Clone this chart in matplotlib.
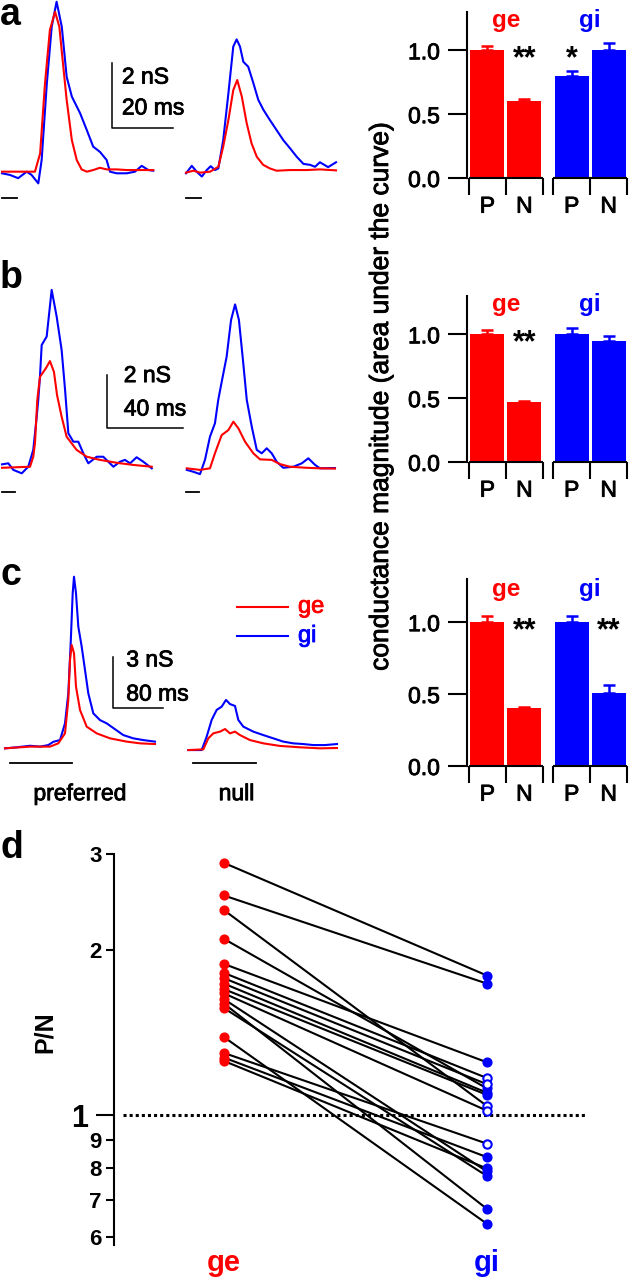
import numpy as np
import matplotlib.pyplot as plt
import matplotlib.patheffects as pe
from matplotlib.ticker import FixedLocator, FixedFormatter
from matplotlib.transforms import blended_transform_factory

plt.rcParams['font.family'] = ['Liberation Sans', 'DejaVu Sans']

RED = '#ff0000'
BLUE = '#0000ff'
# slightly heavier strokes for the regular text, as in the scanned figure
MEDIUM = [pe.withStroke(linewidth=0.6, foreground='k')]

# ---------------- traces (time in ms, conductance in nS) ----------------
# panel a, preferred
a_pref_ge_t = [0, 10.8, 12.5, 14.1, 15.7, 17.4, 18.8, 20.1, 21.2, 22.9, 24.5, 26.1, 27.8, 29.9, 32.1, 34.3, 37.6, 40.9, 45.2, 49.6]
a_pref_ge = [0.01, 0.01, 0.57, 2.73, 4.37, 4.93, 4.47, 3.24, 2.22, 0.98, 0.37, 0.08, 0.01, 0.06, 0.13, 0.08, 0.08, 0.06, 0.06, 0.06]
a_pref_gi_t = [0, 2.6, 5.3, 8.1, 9.7, 11.9, 13.0, 14.7, 16.3, 17.9, 19.6, 21.2, 22.9, 25.6, 27.8, 29.9, 32.1, 34.3, 35.4, 37.6, 40.9, 43.6, 45.8, 48.0, 49.6]
a_pref_gi = [-0.04, -0.09, -0.19, 0.01, -0.09, -0.35, 0.37, 2.73, 4.47, 5.24, 4.47, 2.93, 2.32, 1.81, 1.29, 0.78, 0.62, 0.37, 0.01, -0.04, -0.04, 0.01, 0.19, 0.06, 0.04]
# panel a, null
a_null_ge_t = [0, 2.4, 4.6, 7.9, 10.6, 12.2, 13.9, 15.5, 16.8, 18.3, 19.9, 21.5, 23.2, 25.3, 27.5, 29.7, 34.1, 39.6, 43.9, 49.2]
a_null_ge = [-0.02, 0.04, -0.02, 0.01, 0.16, 0.78, 1.60, 2.52, 2.83, 2.32, 1.50, 0.88, 0.47, 0.22, 0.11, 0.04, 0.06, 0.06, 0.08, 0.05]
a_null_gi_t = [0, 1.9, 3.5, 5.2, 6.8, 8.1, 9.5, 10.6, 12.2, 13.9, 15.5, 16.6, 17.7, 18.8, 20.4, 22.1, 23.7, 25.4, 27.5, 29.7, 31.9, 34.1, 36.3, 38.5, 40.7, 42.3, 43.9, 46.6, 49.2]
a_null_gi = [-0.04, 0.19, 0.01, -0.14, 0.06, 0.18, 0.06, 0.11, 0.98, 2.42, 3.86, 4.08, 3.86, 3.39, 3.24, 2.73, 2.22, 1.91, 1.60, 1.29, 0.98, 0.73, 0.47, 0.25, 0.22, 0.16, 0.30, 0.15, 0.30]

# panel b, preferred
b_pref_ge_t = [0, 14.6, 16.3, 17.2, 18.4, 19.8, 23.0, 25.0, 27.1, 28.7, 31.1, 33.7, 38.9, 44.2, 51.1, 59.8, 68.3, 78.1]
b_pref_ge = [-0.03, 0.01, 0.39, 0.91, 2.54, 3.42, 3.76, 4.02, 3.61, 2.73, 1.91, 1.15, 0.65, 0.39, 0.27, 0.16, 0.08, 0.01]
b_pref_gi_t = [0, 3.3, 5.9, 10.3, 13.7, 16.3, 18.1, 18.9, 19.8, 20.7, 23.3, 25.9, 28.5, 31.1, 32.9, 34.6, 37.2, 39.8, 42.4, 45.0, 49.4, 52.8, 58.1, 61.5, 64.1, 66.8, 70.2, 73.7, 78.1]
b_pref_gi = [0.10, 0.14, -0.11, -0.24, 0.01, 0.65, 1.91, 2.54, 3.43, 4.63, 4.95, 6.72, 5.71, 4.44, 2.92, 1.28, 0.96, 0.96, 0.52, 0.14, 0.39, 0.39, 0.01, 0.20, 0.27, 0.14, 0.37, 0.20, -0.05]
# panel b, null
b_null_ge_t = [0.4, 7.3, 12.5, 15.1, 18.6, 22.1, 24.7, 27.3, 30.8, 35.1, 38.6, 44.7, 49.0, 54.2, 62.9, 69.9, 77.7]
b_null_ge = [-0.05, -0.11, -0.05, 0.52, 1.21, 1.40, 1.72, 1.47, 0.96, 0.52, 0.29, 0.27, 0.11, 0.01, -0.03, -0.05, -0.06]
b_null_gi_t = [0.4, 3.8, 7.3, 9.9, 12.5, 15.1, 16.8, 18.8, 21.2, 23.5, 25.6, 27.6, 29.7, 31.7, 34.3, 36.9, 39.5, 42.1, 44.7, 47.3, 50.7, 56.0, 60.4, 63.8, 67.3, 69.9, 77.7]
b_null_gi = [-0.11, -0.18, -0.27, 0.27, 1.15, 1.66, 2.54, 3.30, 4.19, 5.58, 6.17, 5.58, 4.06, 2.54, 1.53, 0.65, 0.52, 0.71, 0.52, 0.20, -0.03, 0.01, 0.14, 0.33, 0.08, -0.05, -0.04]

# panel c, preferred
c_pref_ge_t = [0, 40, 72, 85.3, 96, 101.3, 104, 106.7, 110.4, 113.6, 120, 130.7, 146.7, 168, 194.7, 216, 240]
c_pref_ge = [-0.02, 0.08, 0.08, 0.27, 0.85, 2.79, 5.11, 5.98, 5.50, 3.56, 2.21, 1.24, 0.85, 0.56, 0.37, 0.27, 0.23]
c_pref_gi_t = [0, 18.7, 40, 56, 69.3, 77.3, 88, 96, 101.3, 105.1, 108.3, 110.4, 113.6, 117.3, 122.7, 128, 133.3, 141.3, 152, 162.7, 176, 189.3, 205.3, 221.3, 240]
c_pref_gi = [-0.02, 0.04, 0.13, 0.08, 0.17, 0.36, 0.46, 1.43, 3.17, 6.08, 8.98, 9.94, 8.98, 7.04, 5.88, 4.53, 3.17, 2.01, 1.62, 1.43, 1.09, 0.75, 0.56, 0.46, 0.37]
# panel c, null
c_null_ge_t = [0, 24, 32, 40, 50.7, 58.7, 66.7, 74.7, 82.7, 98.7, 120, 146.7, 178.7, 210.7, 237.9]
c_null_ge = [-0.12, -0.08, 0.56, 0.85, 0.95, 1.10, 0.85, 0.95, 0.75, 0.46, 0.27, 0.12, 0.04, -0.02, 0.0]
c_null_gi_t = [0, 21.4, 29.4, 37.4, 45.4, 53.4, 60.3, 66.7, 74.7, 80, 88, 104, 120, 136, 152, 168, 184, 200, 218.7, 237.9]
c_null_gi = [-0.12, -0.12, 0.66, 1.63, 2.21, 2.40, 2.79, 2.55, 2.44, 1.63, 1.24, 0.95, 0.75, 0.56, 0.37, 0.27, 0.23, 0.17, 0.17, 0.23]

# stimulus (start, duration in ms) and scale bars (nS, ms)
a_stim = (0, 5)
b_stim = (0, 7)
c_stim = (8, 100)
a_scale = (2, 20)
b_scale = (2, 40)
c_scale = (3, 80)

# ---------------- bar data (normalised area under the curve) ----------------
conditions = ['P', 'N']
a_ge_mean, a_ge_err = [1.0, 0.60], [0.03, 0.015]
a_gi_mean, a_gi_err = [0.80, 1.0], [0.04, 0.06]
b_ge_mean, b_ge_err = [1.0, 0.47], [0.03, 0.01]
b_gi_mean, b_gi_err = [1.0, 0.95], [0.05, 0.04]
c_ge_mean, c_ge_err = [1.0, 0.40], [0.045, 0.01]
c_gi_mean, c_gi_err = [1.0, 0.51], [0.045, 0.05]
a_ge_stars, a_gi_stars = ['', '**'], ['*', '']
b_ge_stars, b_gi_stars = ['', '**'], ['', '']
c_ge_stars, c_gi_stars = ['', '**'], ['', '**']

# ---------------- panel d: P/N ratio per cell ----------------
d_ge = [2.89, 2.52, 2.37, 2.10, 1.89, 1.82, 1.78, 1.74, 1.70, 1.67, 1.63, 1.60, 1.57, 1.39, 1.30, 1.275, 1.257]
d_gi = [1.80, 1.74, 1.04, 1.12, 1.25, 1.17, 1.14, 1.10, 1.09, 1.02, 0.79, 0.675, 0.775, 0.634, 0.888, 0.839, 0.80]
d_gi_open = [False, False, True, False, False, True, True, False, False, True, False, False, False, False, True, False, False]
d_ticks = [0.6, 0.7, 0.8, 0.9, 2, 3]
d_ticklabels = ['6', '7', '8', '9', '2', '3']

W, H = 629, 1280
fig = plt.figure(figsize=(W / 100, H / 100), dpi=100)


def px_rect(left, top, width, height):
    return [left / W, 1 - (top + height) / H, width / W, height / H]


def trace_axes(left, right, top, bottom, t0, base, ms_px, ns_px):
    ax = fig.add_axes(px_rect(left, top, right - left, bottom - top))
    ax.set_xlim((left - t0) / ms_px, (right - t0) / ms_px)
    ax.set_ylim((base - bottom) / ns_px, (base - top) / ns_px)
    ax.set_axis_off()
    return ax


def draw_traces(ax, ge_t, ge, gi_t, gi, stim, stim_y):
    ax.plot(gi_t, gi, color=BLUE, lw=1.5)
    ax.plot(ge_t, ge, color=RED, lw=1.5)
    ax.plot([stim[0], stim[0] + stim[1]], [stim_y, stim_y], color='k', lw=1.3,
            clip_on=False)


def scale_bar(ax, t, g, scale, txt_t, amp_g, dur_g):
    amp, dur = scale
    ax.plot([t, t, t + dur], [g + amp, g, g], color='k', lw=1.1, clip_on=False)
    ax.text(txt_t, amp_g, f'{amp} nS', ha='left', va='center', fontsize=16.5,
            path_effects=MEDIUM)
    ax.text(txt_t, dur_g, f'{dur} ms', ha='left', va='center', fontsize=16.5,
            path_effects=MEDIUM)


# ---- panel a traces ----
ax = trace_axes(0, 183, 0, 215, 2, 172, 3.05, 32.5)
draw_traces(ax, a_pref_ge_t, a_pref_ge, a_pref_gi_t, a_pref_gi, a_stim, -0.785)
scale_bar(ax, 36.1, 1.35, a_scale, 39.3, 2.92, 1.97)
ax = trace_axes(183, 345, 0, 215, 186, 172, 3.05, 32.5)
draw_traces(ax, a_null_ge_t, a_null_ge, a_null_gi_t, a_null_gi, a_stim, -0.785)

# ---- panel b traces ----
ax = trace_axes(0, 186, 240, 505, 2, 467, 1.9175, 26.35)
draw_traces(ax, b_pref_ge_t, b_pref_ge, b_pref_gi_t, b_pref_gi, b_stim, -0.94)
scale_bar(ax, 54.6, 1.49, b_scale, 63.5, 3.47, 2.20)
ax = trace_axes(183, 345, 240, 505, 186, 467, 1.9175, 26.35)
draw_traces(ax, b_null_ge_t, b_null_ge, b_null_gi_t, b_null_gi, b_stim, -0.94)

# ---- panel c traces ----
ax = trace_axes(0, 186, 545, 815, 5, 748, 0.625, 17.23)
draw_traces(ax, c_pref_ge_t, c_pref_ge, c_pref_gi_t, c_pref_gi, c_stim, -0.89)
scale_bar(ax, 173.3, 2.30, c_scale, 194.0, 5.11, 3.13)
ax.text(120, -2.65, 'preferred', ha='center', va='center', fontsize=16.5,
        path_effects=MEDIUM)
ax = trace_axes(183, 345, 545, 815, 188.3, 748, 0.625, 17.23)
draw_traces(ax, c_null_ge_t, c_null_ge, c_null_gi_t, c_null_gi, c_stim, -0.89)
ax.text(77, -2.65, 'null', ha='center', va='center', fontsize=16.5,
        path_effects=MEDIUM)
# legend
for g, col, lab in [(8.20, RED, 'ge'), (6.50, BLUE, 'gi')]:
    ax.plot([77.4, 160], [g, g], color=col, lw=1.5)
    ax.text(175.5, g, lab, color=col, ha='left', va='center', fontsize=17,
            path_effects=[pe.withStroke(linewidth=0.6, foreground=col)])


# ---------------- bar panels ----------------
def bar_panel(top, bottom, ge_mean, ge_err, gi_mean, gi_err, ge_stars, gi_stars):
    ax = fig.add_axes(px_rect(467, top, 162, bottom - top))
    pos_ge = np.array([0.0, 1.0])
    pos_gi = pos_ge + 2.28
    for pos, mean, err, col, stars, name in [
            (pos_ge, ge_mean, ge_err, RED, ge_stars, 'ge'),
            (pos_gi, gi_mean, gi_err, BLUE, gi_stars, 'gi')]:
        ax.bar(pos, mean, width=0.92, color=col, zorder=2)
        ax.errorbar(pos, mean, yerr=[np.zeros(len(err)), err], fmt='none',
                    ecolor=col, elinewidth=1.8, capsize=4, capthick=1.8, zorder=2)
        for x, s in zip(pos, stars):
            if s:
                ax.annotate(s, xy=(x, 1.0), xytext=(0, -12.5),
                            textcoords='offset points', ha='center',
                            va='baseline', fontsize=22, fontweight='bold')
        ax.text(pos.mean(), 1.23, name, color=col, ha='center', va='center',
                fontsize=17.5, fontweight='bold')
        ax.plot([pos[0] - 0.5, pos[-1] + 0.5], [0, 0], color='k', lw=1.5,
                clip_on=False, solid_capstyle='butt', zorder=3)
    centers = np.concatenate([pos_ge, pos_gi])
    bounds = np.concatenate([np.append(pos_ge - 0.5, pos_ge[-1] + 0.5),
                             np.append(pos_gi - 0.5, pos_gi[-1] + 0.5)])
    ax.set_xlim(-0.55, 3.83)
    ax.set_ylim(0, 1.3)
    ax.set_xticks(bounds)
    ax.set_xticklabels([])
    ax.set_xticks(centers, minor=True)
    ax.set_xticklabels(conditions * 2, minor=True)
    ax.tick_params(axis='x', which='major', direction='out', length=12.2, width=1.5)
    ax.tick_params(axis='x', which='minor', length=0, pad=12, labelsize=16.5)
    ax.set_yticks([0, 0.5, 1.0])
    ax.set_yticklabels(['0.0', '0.5', '1.0'])
    ax.tick_params(axis='y', length=13.7, width=1.5, pad=5.8, labelsize=16.5)
    for lab in ax.get_yticklabels() + ax.get_xticklabels(minor=True):
        lab.set_path_effects(MEDIUM)
    for side in ['top', 'right', 'bottom']:
        ax.spines[side].set_visible(False)
    ax.spines['left'].set_linewidth(1.5)
    ax.patch.set_alpha(0)
    return ax


bar_panel(12, 178, a_ge_mean, a_ge_err, a_gi_mean, a_gi_err, a_ge_stars, a_gi_stars)
bar_panel(296, 462, b_ge_mean, b_ge_err, b_gi_mean, b_gi_err, b_ge_stars, b_gi_stars)
bar_panel(579, 766, c_ge_mean, c_ge_err, c_gi_mean, c_gi_err, c_ge_stars, c_gi_stars)

fig.text(381 / W, 1 - 396 / H, 'conductance magnitude (area under the curve)',
         rotation=90, ha='center', va='center', fontsize=19, path_effects=MEDIUM)

# ---------------- panel d ----------------
ax = fig.add_axes(px_rect(114, 854, 515, 391))
ax.set_yscale('log')
for ge_v, gi_v in zip(d_ge, d_gi):
    ax.plot([0, 1], [ge_v, gi_v], color='k', lw=1.5, zorder=2)
ax.plot(np.zeros(len(d_ge)), d_ge, 'o', color=RED, ms=6.3, zorder=3)
gi_arr = np.array(d_gi)
open_arr = np.array(d_gi_open)
ax.plot(np.ones((~open_arr).sum()), gi_arr[~open_arr], 'o', color=BLUE, ms=6.3, zorder=3)
ax.plot(np.ones(open_arr.sum()), gi_arr[open_arr], 'o', mfc='white', mec=BLUE,
        mew=1.5, ms=6.0, zorder=3)
ax.axhline(1.0, xmin=0.017, xmax=0.919, color='k', lw=2.2, ls=(0, (1, 1)), zorder=1)
ax.set_xlim(-0.418, 1.540)
ax.set_ylim(0.58, 3.0)
ax.yaxis.set_major_locator(FixedLocator(d_ticks))
ax.yaxis.set_major_formatter(FixedFormatter(d_ticklabels))
ax.yaxis.set_minor_locator(FixedLocator([1.0]))
ax.yaxis.set_minor_formatter(FixedFormatter(['1']))
ax.tick_params(axis='y', which='major', length=5.8, width=1.5, pad=3, labelsize=16)
ax.tick_params(axis='y', which='minor', length=13, width=1.5, pad=5.5, labelsize=22)
for lab in ax.get_yticklabels(which='both'):
    lab.set_fontweight('bold')
ax.set_xticks([])
for side in ['top', 'right', 'bottom']:
    ax.spines[side].set_visible(False)
ax.spines['left'].set_linewidth(1.5)
ax.patch.set_alpha(0)
trans = blended_transform_factory(ax.transData, ax.transAxes)
ax.text(0, -0.046, 'ge', transform=trans, color=RED, ha='center', va='center',
        fontsize=21, fontweight='bold')
ax.text(1, -0.046, 'gi', transform=trans, color=BLUE, ha='center', va='center',
        fontsize=21, fontweight='bold')
fig.text(45 / W, 1 - 1032 / H, 'P/N', rotation=90, ha='center', va='center',
         fontsize=18, fontweight='bold')

# panel letters
for lab, y in [('a', 25), ('b', 288), ('c', 585), ('d', 858)]:
    fig.text(0, 1 - y / H, lab, ha='left', va='baseline', fontsize=27, fontweight='bold')

fig.savefig('out.png', dpi=100)
